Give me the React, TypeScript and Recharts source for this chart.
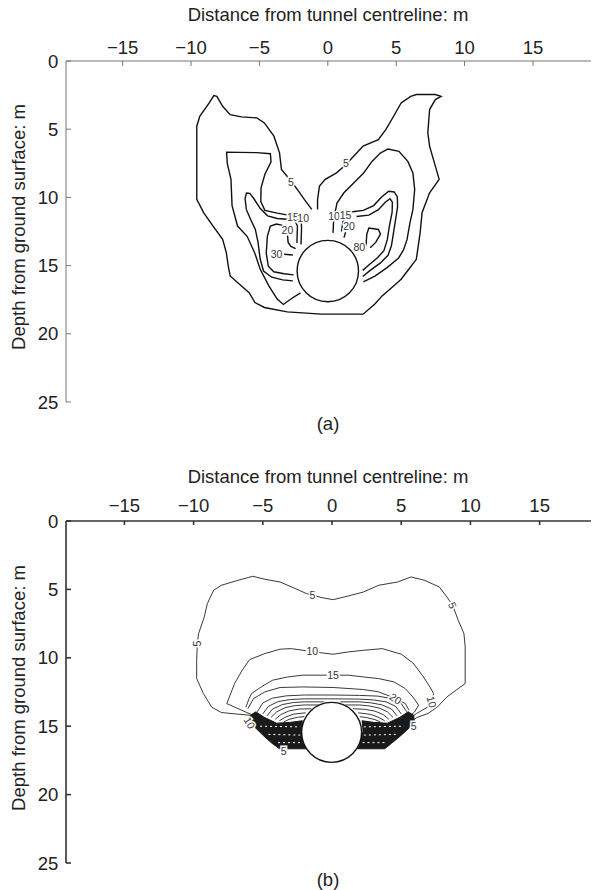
import React from 'react'
import { ComposedChart, Scatter, XAxis, YAxis, ReferenceDot } from 'recharts'

type P = [number, number]
type Lbl = { x: number; y: number; text: string; angle?: number }

const xTicks = [-15, -10, -5, 0, 5, 10, 15]
const yTicks = [0, 5, 10, 15, 20, 25]

// ---------- (a) contours, x = distance (m), y = depth (m)
const aOuter5: P[] = [
  [-1.17, 10.88], [-1.72, 10.15], [-2.14, 9.54], [-2.69, 8.8], [-3.39, 7.95], [-3.53, 6.73],
  [-3.94, 5.51], [-4.64, 4.54], [-5.19, 4.17], [-6.31, 4.1], [-7.14, 3.93], [-7.69, 3.32],
  [-8.11, 2.59], [-8.33, 2.54], [-8.67, 3.07], [-9.36, 4.05], [-9.58, 4.78], [-9.58, 6.49],
  [-9.58, 8.44], [-9.58, 10.15], [-9.08, 11.12], [-8.39, 12.1], [-7.69, 13.07], [-7.42, 14.05],
  [-7.28, 15.02], [-7.14, 15.76], [-6.31, 16.49], [-5.75, 16.98], [-5.33, 17.71], [-4.64, 18.07],
  [-2.97, 18.39], [-0.47, 18.56], [2.58, 18.56], [3.42, 17.83], [3.97, 17.22], [4.81, 16.49],
  [5.36, 16.0], [5.92, 15.27], [6.47, 14.54], [6.61, 13.56], [6.75, 12.59], [6.89, 11.12],
  [7.44, 9.66], [8.14, 8.68], [7.86, 7.71], [7.44, 6.24], [7.31, 5.27], [7.44, 3.56],
  [7.86, 2.83], [8.28, 2.59], [7.86, 2.46], [6.47, 2.46], [6.06, 2.59], [5.36, 3.07],
  [4.81, 4.05], [4.25, 5.02], [3.69, 5.76], [2.58, 6.24], [1.89, 6.98], [1.19, 7.71],
  [0.64, 8.2], [-0.19, 8.68], [-0.61, 9.17], [-0.75, 10.15], [-0.75, 10.88],
]
const aLeft10: P[] = [
  [-1.96, 13.45], [-1.92, 12.2], [-1.95, 11.6], [-2.3, 11.4], [-2.9, 11.3], [-3.7, 11.15],
  [-4.6, 10.95], [-4.9, 10.3], [-4.88, 9.3], [-4.6, 8.3], [-4.15, 7.4], [-4.2, 6.8],
  [-5.2, 6.72], [-6.4, 6.7], [-7.4, 6.68], [-7.35, 7.5], [-7.08, 8.68], [-7.0, 10.6],
  [-6.6, 12.1], [-5.9, 12.85], [-5.35, 14.05], [-4.95, 15.25], [-4.3, 16.5], [-3.7, 17.45],
  [-3.25, 17.85], [-2.7, 17.45], [-2.0, 17.0],
]
const aLeft15: P[] = [
  [-2.26, 13.35], [-2.22, 12.1], [-2.4, 11.7], [-3.0, 11.6], [-3.7, 11.55], [-4.4, 11.35],
  [-4.95, 10.8], [-5.4, 10.1], [-5.7, 9.7], [-5.95, 9.68], [-6.05, 10.1], [-5.95, 10.9],
  [-5.65, 11.6], [-5.3, 12.35], [-5.1, 13.3], [-4.95, 14.5], [-4.7, 15.4], [-4.1, 15.85],
  [-3.3, 16.05], [-2.56, 16.12],
]
const aLeft20: P[] = [
  [-3.3, 12.05], [-3.75, 11.95], [-4.2, 12.1], [-4.42, 12.85], [-4.5, 14.1], [-4.35, 15.05],
  [-3.95, 15.45], [-3.2, 15.6], [-2.5, 15.68],
]
const aLeft20b: P[] = [[-2.95, 12.75], [-2.9, 13.3], [-2.7, 13.6], [-2.35, 13.75]]
const aLeft30: P[] = [[-3.2, 14.17], [-2.56, 14.22]]
const aRight10: P[] = [
  [0.38, 12.6], [0.43, 11.63], [0.67, 10.41], [1.16, 9.68], [1.89, 8.94], [2.62, 8.21],
  [3.23, 7.36], [3.84, 6.75], [4.4, 6.45], [5.2, 6.62], [5.85, 7.36], [6.22, 8.21],
  [6.35, 9.43], [6.22, 10.9], [6.0, 11.88], [5.79, 13.1], [5.54, 13.83], [5.18, 14.44],
  [4.33, 15.15], [3.47, 15.75], [2.6, 16.2],
]
const aRight15: P[] = [
  [1.0, 12.5], [1.1, 11.8], [1.35, 11.3], [1.8, 11.05], [2.6, 10.95], [3.35, 10.6],
  [3.95, 9.95], [4.45, 9.55], [4.85, 9.6], [5.08, 9.95], [5.1, 10.7], [4.95, 11.65],
  [4.8, 12.6], [4.65, 13.55], [4.4, 14.25], [3.85, 14.8], [3.1, 15.35], [2.55, 15.8],
]
const aRight20: P[] = [
  [2.1, 11.4], [3.0, 11.3], [3.7, 10.9], [4.2, 10.35], [4.55, 10.1], [4.72, 10.35],
  [4.7, 11.1], [4.5, 12.1], [4.35, 13.1], [4.1, 13.9], [3.65, 14.4], [3.0, 14.95], [2.55, 15.35],
]
const aRight20b: P[] = [[1.3, 12.55], [1.18, 12.95]]
const aRight80: P[] = [
  [2.65, 13.95], [2.8, 13.4], [2.85, 12.7], [3.0, 12.25], [3.7, 12.35], [3.85, 12.7],
  [3.5, 13.3], [3.1, 13.7],
]
const aLines = [aOuter5, aLeft10, aLeft15, aLeft20, aLeft20b, aLeft30, aRight10, aRight15, aRight20, aRight20b, aRight80]
const aLabels: Lbl[] = [
  { x: -2.69, y: 8.9, text: '5' }, { x: 1.33, y: 7.5, text: '5' },
  { x: -2.55, y: 11.45, text: '15' }, { x: -1.8, y: 11.5, text: '10' },
  { x: 0.45, y: 11.4, text: '10' }, { x: 1.3, y: 11.3, text: '15' },
  { x: -2.95, y: 12.4, text: '20' }, { x: 1.55, y: 12.1, text: '20' },
  { x: -3.75, y: 14.15, text: '30' }, { x: 2.3, y: 13.6, text: '80' },
]
const aTunnel = { x: 0, y: 15.4 }

// ---------- (b) computed contours
const bC5: P[] = [
  [-5.4, 14.6], [-5.9, 14.2], [-7.0, 14.1], [-8.0, 14.0], [-8.7, 13.6], [-9.3, 12.6],
  [-9.78, 11.52], [-9.78, 10.18], [-9.73, 8.96], [-9.64, 8.23], [-9.23, 7.01], [-9.01, 6.04],
  [-8.55, 5.06], [-8.0, 4.7], [-6.77, 4.33], [-5.73, 4.04], [-4.85, 4.26], [-3.75, 4.46],
  [-2.38, 5.06], [-1.84, 5.31], [-0.74, 5.6], [0.08, 5.75], [1.18, 5.48], [2.27, 5.19],
  [3.37, 4.7], [4.74, 4.46], [5.7, 4.09], [6.66, 4.33], [7.75, 4.82], [8.3, 5.55],
  [8.71, 6.16], [9.12, 7.26], [9.53, 8.23], [9.62, 9.2], [9.62, 11.88], [8.3, 12.86],
  [7.62, 13.59], [6.93, 14.07], [6.11, 14.37], [5.56, 14.8],
]
const bC10: P[] = [
  [-5.6, 14.25], [-7.6, 13.35], [-7.04, 11.88], [-6.49, 10.91], [-5.95, 10.13], [-4.85, 9.69],
  [-3.75, 9.37], [-2.93, 9.33], [-2.11, 9.45], [-0.74, 9.64], [0.08, 9.74], [1.18, 9.57],
  [2.27, 9.45], [3.64, 9.33], [5.01, 9.74], [5.84, 10.37], [6.52, 11.27], [7.07, 12.13],
  [7.34, 12.61], [7.21, 13.22], [6.93, 13.59], [6.11, 14.07], [5.42, 14.56],
]
const bC15: P[] = [
  [-6.22, 13.6], [-6.0, 13.0], [-5.81, 12.61], [-5.12, 12.13], [-4.3, 11.64], [-3.21, 11.4],
  [-2.11, 11.27], [0.08, 11.27], [1.18, 11.27], [2.27, 11.4], [3.37, 11.52], [4.47, 11.76],
  [5.29, 12.25], [5.84, 12.86], [6.25, 13.46], [5.97, 13.95], [5.56, 14.32],
]
const bC20: P[] = [
  [-6.08, 13.71], [-5.67, 12.98], [-4.85, 12.49], [-3.75, 12.17], [-2.11, 12.13], [0.08, 12.17],
  [2.27, 12.32], [3.37, 12.49], [4.6, 12.98], [5.29, 13.34], [5.56, 13.83],
]
const bArc1: P[] = [
  [-5.4, 13.95], [-5.0, 13.3], [-4.3, 12.95], [-3.3, 12.78], [-2.0, 12.72], [0, 12.72],
  [2.0, 12.75], [3.3, 12.8], [4.3, 12.98], [5.0, 13.35], [5.4, 13.95],
]
const bArc2: P[] = [
  [-5.0, 14.1], [-4.6, 13.55], [-3.9, 13.2], [-3.0, 13.05], [-2.0, 13.0], [0, 13.0],
  [2.0, 13.02], [3.0, 13.08], [3.9, 13.22], [4.6, 13.55], [5.0, 14.1],
]
const bArc3L: P[] = [[-4.7, 14.25], [-4.3, 13.75], [-3.6, 13.42], [-2.8, 13.27], [-2.0, 13.22], [-0.6, 13.22]]
const bArc3R: P[] = [[0.6, 13.22], [2.0, 13.22], [2.8, 13.29], [3.6, 13.44], [4.3, 13.75], [4.7, 14.25]]
const bArc4L: P[] = [[-4.4, 14.35], [-4.0, 13.95], [-3.4, 13.65], [-2.7, 13.5], [-2.0, 13.45], [-0.95, 13.45]]
const bArc4R: P[] = [[0.95, 13.45], [2.0, 13.45], [2.7, 13.52], [3.4, 13.67], [4.0, 13.95], [4.4, 14.35]]
const bArc5L: P[] = [[-4.1, 14.5], [-3.7, 14.15], [-3.1, 13.88], [-2.4, 13.75], [-1.5, 13.72]]
const bArc5R: P[] = [[1.5, 13.72], [2.4, 13.77], [3.1, 13.9], [3.7, 14.15], [4.1, 14.5]]
const bArc6L: P[] = [[-3.8, 14.6], [-3.4, 14.35], [-2.8, 14.12], [-1.9, 14.02]]
const bArc6R: P[] = [[1.9, 14.02], [2.8, 14.14], [3.4, 14.37], [3.8, 14.6]]
const bArc7L: P[] = [[-3.5, 14.7], [-3.1, 14.5], [-2.5, 14.35], [-2.0, 14.3]]
const bArc7R: P[] = [[2.0, 14.3], [2.5, 14.37], [3.1, 14.52], [3.5, 14.7]]
const bDenseL: P[] = [
  [-5.9, 14.2], [-5.5, 13.95], [-4.9, 14.35], [-4.0, 14.78], [-3.0, 14.72], [-2.15, 14.6],
  [-2.2, 15.45], [-2.0, 16.35], [-1.85, 16.65], [-3.8, 16.65], [-4.4, 16.2], [-4.95, 15.7],
  [-5.5, 15.15], [-5.95, 14.7],
]
const bDenseR: P[] = [
  [2.15, 14.6], [3.0, 14.72], [4.0, 14.78], [4.9, 14.35], [5.5, 13.95], [5.9, 14.2],
  [5.95, 14.7], [5.5, 15.2], [4.9, 15.75], [4.3, 16.25], [3.8, 16.65], [1.85, 16.65],
  [2.0, 16.35], [2.2, 15.45],
]
const bSpeck: P[][] = [
  [[-5.2, 15.0], [-2.3, 15.05]], [[-4.6, 15.6], [-2.3, 15.65]], [[-3.9, 16.2], [-2.2, 16.2]],
  [[2.3, 15.05], [5.2, 15.0]], [[2.3, 15.65], [4.6, 15.6]], [[2.2, 16.2], [3.9, 16.2]],
]
const bLines = [bC5, bC10, bC15, bC20, bArc1, bArc2, bArc3L, bArc3R, bArc4L, bArc4R, bArc5L, bArc5R, bArc6L, bArc6R, bArc7L, bArc7R]
const bLabels: Lbl[] = [
  { x: -1.42, y: 5.38, text: '5' }, { x: 8.71, y: 6.16, text: '5', angle: 65 },
  { x: -9.73, y: 8.96, text: '5', angle: -90 }, { x: -1.42, y: 9.52, text: '10' },
  { x: 0.08, y: 11.27, text: '15' }, { x: 4.6, y: 12.98, text: '20', angle: 35 },
  { x: 7.21, y: 13.22, text: '10', angle: 75 }, { x: 5.9, y: 14.95, text: '5' },
  { x: -3.5, y: 16.8, text: '5' }, { x: -5.95, y: 14.75, text: '10', angle: 60 },
]
const bTunnel = { x: -0.03, y: 15.45 }

const FONT = '"Liberation Sans", Arial, Helvetica, sans-serif'
const toPts = (line: P[]) => line.map(([x, y]) => ({ x, y }))
const noDot = () => <g />
const fmtX = (v: number) => (v < 0 ? `\u2212${-v}` : `${v}`)

function labelShape(l: Lbl, color: string) {
  return (p: any) => {
    const common = {
      x: p.cx,
      y: p.cy,
      textAnchor: 'middle' as const,
      dominantBaseline: 'central' as const,
      fontSize: 10.5,
      fontFamily: FONT,
    }
    return (
      <g transform={l.angle ? `rotate(${l.angle} ${p.cx} ${p.cy})` : undefined}>
        <text {...common} fill="#fff" stroke="#fff" strokeWidth={3}>{l.text}</text>
        <text {...common} fill={color} stroke="none">{l.text}</text>
      </g>
    )
  }
}

interface PanelProps {
  top: number
  xDomain: [number, number]
  plotH: number
  lines: P[][]
  fills?: P[][]
  specks?: P[][]
  labels: Lbl[]
  tunnel: { x: number; y: number }
  tunnelR: number
  axisColor: string
  axisWidth: number
  lineColor: string
  lineWidth: number
  xTickSize: number
  xTickMargin: number
  titleTop: number
  yTitleY: number
  caption: string
  captionTop: number
}

function Panel(p: PanelProps) {
  const axisLine = { stroke: p.axisColor, strokeWidth: p.axisWidth }
  const tick = { fill: '#222', fontSize: 18.5, fontFamily: FONT }
  return (
    <div style={{ position: 'absolute', left: 0, top: p.top, width: 593 }}>
      <div style={{ position: 'absolute', left: 128, width: 400, top: p.titleTop, textAlign: 'center', fontSize: 18.5, lineHeight: '18.5px', whiteSpace: 'nowrap' }}>
        Distance from tunnel centreline: m
      </div>
      <div style={{ position: 'absolute', left: 18.5, top: p.yTitleY, transform: 'translate(-50%, -50%) rotate(-90deg)', fontSize: 18.5, lineHeight: '18.5px', whiteSpace: 'nowrap' }}>
        Depth from ground surface: m
      </div>
      <ComposedChart width={593} height={61 + p.plotH + 16} margin={{ top: 0, right: 2, bottom: 16, left: 0 }}>
        <XAxis
          type="number"
          dataKey="x"
          orientation="top"
          domain={p.xDomain}
          allowDataOverflow
          ticks={xTicks}
          interval={0}
          tickFormatter={fmtX}
          height={61}
          tickSize={p.xTickSize}
          tickMargin={p.xTickMargin}
          axisLine={axisLine}
          tickLine={axisLine}
          tick={tick}
        />
        <YAxis
          type="number"
          dataKey="y"
          reversed
          domain={[0, 25]}
          allowDataOverflow
          ticks={yTicks}
          interval={0}
          width={66}
          tickSize={-5}
          tickMargin={12.7}
          axisLine={axisLine}
          tickLine={axisLine}
          tick={tick}
        />
        {(p.fills || []).map((d, i) => (
          <Scatter key={`f${i}`} data={toPts(d)} shape={noDot} line={{ stroke: '#1a1a1a', fill: '#1a1a1a', strokeWidth: 1 }} isAnimationActive={false} />
        ))}
        {(p.specks || []).map((d, i) => (
          <Scatter key={`s${i}`} data={toPts(d)} shape={noDot} line={{ stroke: '#fff', strokeWidth: 1, strokeDasharray: '2 3' }} isAnimationActive={false} />
        ))}
        {p.lines.map((d, i) => (
          <Scatter key={`l${i}`} data={toPts(d)} shape={noDot} line={{ stroke: p.lineColor, strokeWidth: p.lineWidth }} isAnimationActive={false} />
        ))}
        <ReferenceDot x={p.tunnel.x} y={p.tunnel.y} r={p.tunnelR} fill="#fff" stroke="#111" strokeWidth={1.4} />
        {p.labels.map((l, i) => (
          <ReferenceDot key={`t${i}`} x={l.x} y={l.y} r={1} shape={labelShape(l, '#333')} />
        ))}
      </ComposedChart>
      <div style={{ position: 'absolute', left: 228, width: 200, top: p.captionTop, textAlign: 'center', fontSize: 18.5, lineHeight: '22px' }}>
        {p.caption}
      </div>
    </div>
  )
}

export default function App() {
  return (
    <div style={{ position: 'absolute', left: 0, top: 0, width: 593, height: 890, background: '#fff', fontFamily: FONT, color: '#222', overflow: 'hidden' }}>
      <Panel
        top={0}
        xDomain={[-19.14, 19.24]}
        plotH={341}
        lines={aLines}
        labels={aLabels}
        tunnel={aTunnel}
        tunnelR={30.7}
        axisColor="#777"
        axisWidth={1}
        lineColor="#111"
        lineWidth={1.4}
        xTickSize={-5}
        xTickMargin={12}
        titleTop={6}
        yTitleY={227}
        caption="(a)"
        captionTop={413}
      />
      <Panel
        top={460}
        xDomain={[-19.22, 18.71]}
        plotH={342}
        lines={bLines}
        fills={[bDenseL, bDenseR]}
        specks={bSpeck}
        labels={bLabels}
        tunnel={bTunnel}
        tunnelR={30}
        axisColor="#333"
        axisWidth={1.6}
        lineColor="#222"
        lineWidth={0.9}
        xTickSize={-4}
        xTickMargin={13.3}
        titleTop={7.7}
        yTitleY={228}
        caption="(b)"
        captionTop={409.4}
      />
    </div>
  )
}
